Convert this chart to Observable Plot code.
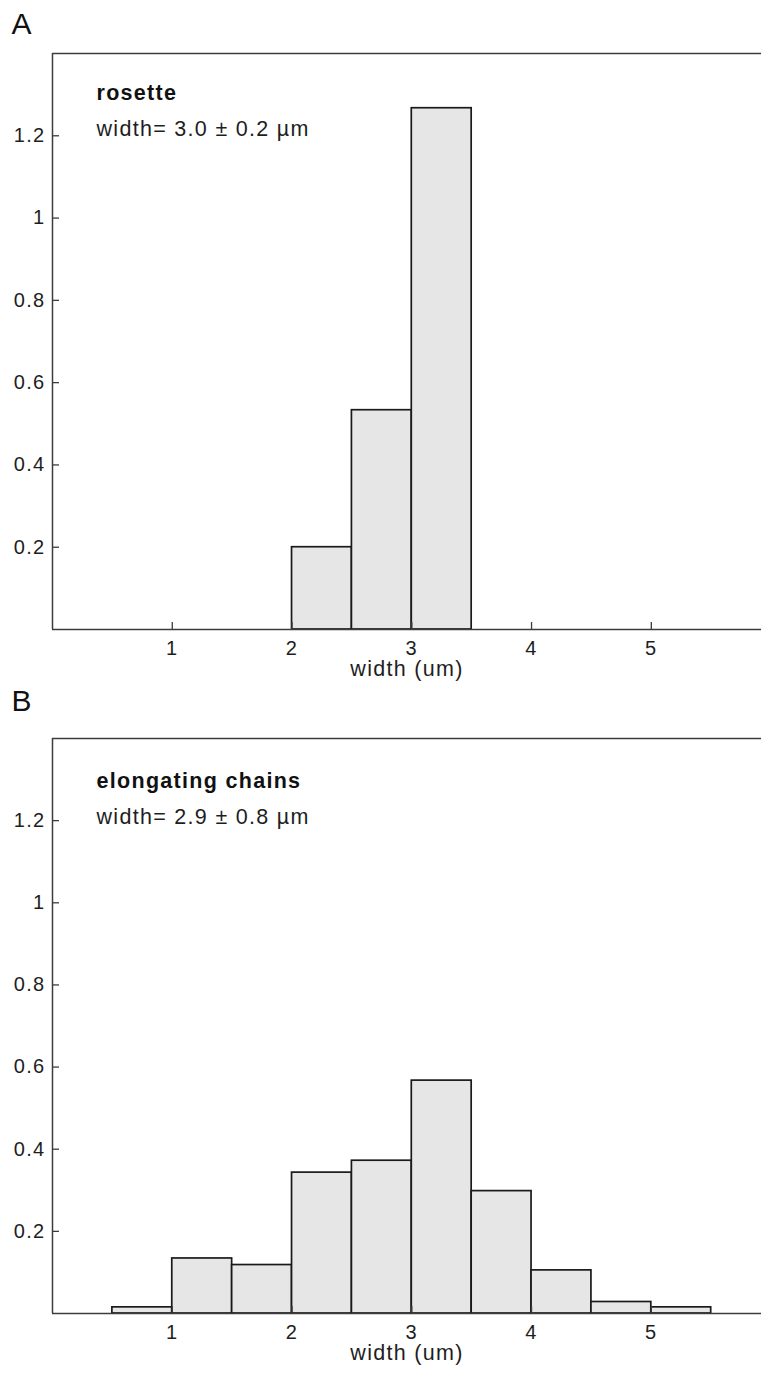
<!DOCTYPE html>
<html>
<head>
<meta charset="utf-8">
<script src="https://cdn.jsdelivr.net/npm/d3@7"></script>
<script src="https://cdn.jsdelivr.net/npm/@observablehq/plot@0.6"></script>
<style>
  html, body { margin: 0; padding: 0; background: #fff; }
  #chart { width: 761px; }
  #chart svg { display: block; }
  #chart svg text { letter-spacing: 1.3px; }
</style>
</head>
<body>
<div id="chart"></div>
<script>
// ---- data ----
const panelLetters = ["A", "B"];
const panelTitles = ["rosette", "elongating chains"];
const panelStats = ["width= 3.0 ± 0.2 µm", "width= 2.9 ± 0.8 µm"];
const xLabel = "width (um)";
const xTicks = [1, 2, 3, 4, 5];
const yTicks = [0.2, 0.4, 0.6, 0.8, 1, 1.2];

// panel A: rosette (bin edges in µm, density)
const rosetteBinStart = [2.0, 2.5, 3.0];
const rosetteBinEnd   = [2.5, 3.0, 3.5];
const rosetteDensity  = [0.200, 0.533, 1.267];

// panel B: elongating chains
const chainsBinStart = [0.5, 1.0, 1.5, 2.0, 2.5, 3.0, 3.5, 4.0, 4.5, 5.0];
const chainsBinEnd   = [1.0, 1.5, 2.0, 2.5, 3.0, 3.5, 4.0, 4.5, 5.0, 5.5];
const chainsDensity  = [0.015, 0.134, 0.118, 0.343, 0.372, 0.567, 0.298, 0.105, 0.028, 0.015];

const xDomain = [0, 5.92];
const yDomain = [0, 1.4];

const font = "'Liberation Sans', Arial, Helvetica, sans-serif";
const ink = "#1e1e1e";
const axisInk = "#3c3c3c";

function panel(i, starts, ends, vals, opts) {
  const bins = starts.map((s, k) => ({x1: s, x2: ends[k], y: vals[k]}));
  return Plot.plot({
    width: 761,
    height: opts.height,
    marginTop: opts.marginTop,
    marginBottom: opts.marginBottom,
    marginLeft: 52,
    marginRight: 0,
    style: {fontFamily: font, fontSize: "20px", color: ink, background: "#fff", overflow: "visible"},
    x: {domain: xDomain},
    y: {domain: yDomain},
    marks: [
      Plot.rectY(bins, {x1: "x1", x2: "x2", y: "y", fill: "#e5e6e5", stroke: "#1a1a1a", strokeWidth: 1.7, inset: 0}),
      Plot.ruleY([yDomain[0]], {stroke: axisInk, strokeWidth: 1.5}),
      Plot.ruleY([yDomain[1]], {stroke: axisInk, strokeWidth: 1.5}),
      Plot.ruleX([xDomain[0]], {stroke: axisInk, strokeWidth: 1.5}),
      Plot.axisX({ticks: xTicks, tickFormat: d => String(d), tickSize: -7, tickPadding: 18, stroke: axisInk, strokeWidth: 1.3, fill: ink, label: null}),
      Plot.axisY({ticks: yTicks, tickFormat: d => String(d), tickSize: -7, tickPadding: 14, stroke: axisInk, strokeWidth: 1.3, fill: ink, label: null}),
      Plot.text([xLabel], {frameAnchor: "bottom", lineAnchor: "bottom", dy: 46, fill: ink, fontSize: 21.5}),
      Plot.text([panelLetters[i]], {frameAnchor: "top-left", textAnchor: "start", lineAnchor: "bottom", dx: -41, dy: opts.letterDy, fontSize: 30, fill: "#111"}),
      Plot.text([panelTitles[i]], {frameAnchor: "top-left", textAnchor: "start", lineAnchor: "bottom", dx: 44, dy: opts.titleDy, fontWeight: "bold", fontSize: 21.5, fill: "#111"}),
      Plot.text([panelStats[i]], {frameAnchor: "top-left", textAnchor: "start", lineAnchor: "bottom", dx: 44, dy: opts.titleDy + 36, fontSize: 21.5, fill: ink})
    ]
  });
}

const chart = document.getElementById("chart");
chart.append(panel(0, rosetteBinStart, rosetteBinEnd, rosetteDensity, {height: 687, marginTop: 53, marginBottom: 58, letterDy: -20, titleDy: 46}));
chart.append(panel(1, chainsBinStart, chainsBinEnd, chainsDensity, {height: 688, marginTop: 51, marginBottom: 62, letterDy: -28, titleDy: 49}));
</script>
</body>
</html>
